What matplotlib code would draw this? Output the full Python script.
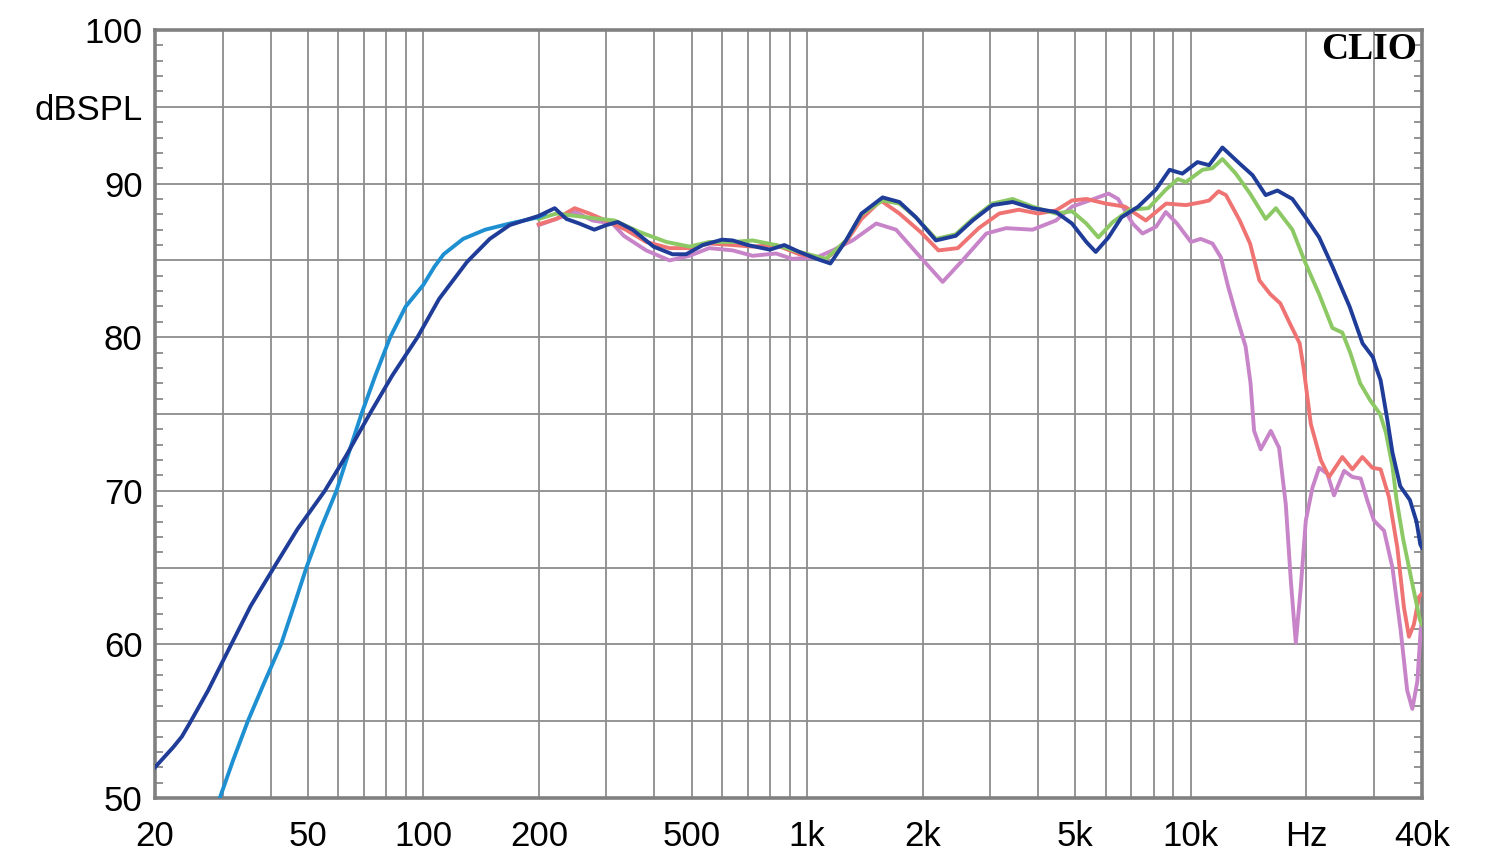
import matplotlib
matplotlib.use('Agg')
import matplotlib.pyplot as plt
from matplotlib.ticker import NullLocator

plt.rcParams['font.family'] = ['Liberation Sans', 'DejaVu Sans']

# light blue (low range measurement)
lb_freq = [29.5, 32, 34.9, 38.5, 42.6, 46, 49.6, 54, 59.4, 64, 69, 75, 82, 90,
           100, 107, 113, 127, 145, 168, 199, 207]
lb_db = [50.0, 52.5, 55.0, 57.5, 60.0, 62.5, 65.0, 67.5, 70.0, 72.5, 75.0, 77.5,
         80.0, 82.0, 83.4, 84.6, 85.4, 86.4, 87.0, 87.4, 87.8, 88.0]

# dark blue (full range)
db_freq = [20, 22.3, 23.5, 24.8, 27.5, 31.6, 35.5, 40.8, 47, 55.4, 63, 72.5, 83,
           96.6, 110, 130, 149, 168, 200, 220, 236, 255, 279, 300, 321, 351,
           398, 446, 484, 535, 600, 640, 700, 800, 872, 955, 1060, 1150, 1263,
           1386, 1573, 1740, 1922, 2166, 2440, 2700, 3040, 3432, 3867, 4450,
           4900, 5340, 5650, 6100, 6590, 7290, 8100, 8800, 9500, 10400, 11150,
           12080, 13400, 14470, 15660, 16800, 18380, 19900, 21580, 23370,
           25900, 28000, 29800, 30300, 31200, 31500, 32500, 33500, 35100,
           37200, 38700, 39600, 40000]
db_db = [52.0, 53.3, 54.0, 55.0, 57.0, 60.0, 62.5, 65.0, 67.5, 70.0, 72.3, 75.0,
         77.5, 80.0, 82.5, 84.9, 86.4, 87.3, 87.9, 88.4, 87.7, 87.4, 87.0, 87.3,
         87.5, 87.0, 85.9, 85.4, 85.4, 86.0, 86.35, 86.3, 86.0, 85.7, 86.0,
         85.55, 85.1, 84.8, 86.3, 88.05, 89.1, 88.8, 87.8, 86.3, 86.6, 87.6,
         88.6, 88.8, 88.4, 88.15, 87.4, 86.2, 85.55, 86.5, 87.8, 88.5, 89.6,
         90.9, 90.65, 91.4, 91.2, 92.35, 91.3, 90.55, 89.25, 89.55, 89.0, 87.8,
         86.5, 84.6, 82.0, 79.6, 78.7, 78.1, 77.2, 76.6, 74.6, 72.5, 70.3,
         69.4, 68.0, 66.5, 66.3]

# green
gr_freq = [200, 222, 249, 288, 315, 366, 430, 494, 556, 640, 721, 830, 955,
           1120, 1263, 1386, 1573, 1740, 1922, 2166, 2440, 2700, 3040, 3432,
           3867, 4450, 4900, 5340, 5740, 6260, 6940, 7750, 8600, 9250, 9700,
           10720, 11380, 12080, 13090, 14260, 15660, 16650, 18380, 19900,
           21580, 23370, 24800, 26000, 27600, 29300, 31100, 32200, 33500,
           34300, 35700, 37600, 39500, 40000]
gr_db = [87.7, 88.05, 87.9, 87.7, 87.6, 86.85, 86.2, 85.9, 86.2, 86.2, 86.3,
         86.0, 85.55, 85.1, 86.3, 88.0, 88.9, 88.7, 87.8, 86.4, 86.7, 87.7,
         88.7, 89.0, 88.5, 88.05, 88.2, 87.4, 86.5, 87.5, 88.3, 88.4, 89.6,
         90.3, 90.1, 90.9, 91.0, 91.6, 90.65, 89.35, 87.7, 88.4, 87.0, 84.8,
         82.8, 80.6, 80.3, 79.0, 77.0, 75.9, 75.0, 73.8, 71.6, 69.5, 66.9,
         64.15, 61.6, 61.3]

# red
rd_freq = [200, 222, 248, 271, 305, 337, 381, 438, 494, 556, 640, 721, 830,
           955, 1120, 1263, 1386, 1556, 1740, 1975, 2200, 2470, 2800, 3165,
           3560, 4000, 4450, 4900, 5340, 6000, 6730, 7630, 8620, 9700, 10720,
           11150, 11800, 12340, 13400, 14260, 15080, 16100, 17100, 18100,
           19200, 19700, 20530, 21800, 22900, 24800, 26350, 27970, 29700,
           31200, 32800, 34500, 35900, 37000, 38100, 39300, 40000]
rd_db = [87.35, 87.7, 88.4, 88.05, 87.5, 87.0, 86.2, 85.8, 85.8, 86.1, 86.0,
         85.9, 86.0, 85.4, 85.1, 86.2, 87.7, 88.9, 88.05, 86.85, 85.65, 85.8,
         87.1, 88.05, 88.3, 88.05, 88.25, 88.9, 89.0, 88.7, 88.5, 87.6, 88.7,
         88.6, 88.8, 88.9, 89.5, 89.25, 87.6, 86.1, 83.7, 82.8, 82.2, 80.9,
         79.6, 77.85, 74.35, 72.0, 70.9, 72.2, 71.4, 72.2, 71.5, 71.4, 69.6,
         66.3, 62.4, 60.5, 61.3, 63.1, 63.3]

# pink
pk_freq = [200, 222, 249, 276, 311, 333, 381, 438, 494, 556, 640, 721, 830,
           914, 1060, 1165, 1314, 1514, 1705, 1975, 2255, 2540, 2930, 3300,
           3867, 4450, 4900, 5440, 6100, 6460, 7050, 7480, 8120, 8600, 9200,
           10000, 10600, 11380, 11970, 12500, 13170, 13880, 14300, 14610,
           15200, 16150, 16970, 17670, 18210, 18760, 19330, 19920, 20730,
           21580, 22680, 23600, 25070, 26350, 27700, 28830, 30000, 31860,
           33500, 35200, 36600, 37750, 38900, 39700, 40000]
pk_db = [87.3, 87.7, 88.15, 87.6, 87.4, 86.6, 85.65, 85.0, 85.3, 85.8, 85.65,
         85.3, 85.45, 85.1, 85.2, 85.65, 86.3, 87.4, 87.0, 85.2, 83.6, 85.0,
         86.75, 87.1, 87.0, 87.6, 88.5, 88.9, 89.35, 89.0, 87.4, 86.75, 87.2,
         88.15, 87.4, 86.2, 86.4, 86.1, 85.2, 83.3, 81.3, 79.4, 77.0, 73.9,
         72.7, 73.9, 72.8, 69.1, 64.15, 60.1, 63.7, 68.05, 70.2, 71.5, 71.1,
         69.7, 71.3, 70.9, 70.8, 69.35, 68.05, 67.4, 65.0, 60.9, 57.0, 55.8,
         57.6, 61.0, 61.5]

x_ticks = [20, 30, 40, 50, 60, 70, 80, 90, 100, 200, 300, 400, 500, 600, 700,
           800, 900, 1000, 2000, 3000, 4000, 5000, 6000, 7000, 8000, 9000,
           10000, 20000, 30000, 40000]
x_names = {20: '20', 50: '50', 100: '100', 200: '200', 500: '500', 1000: '1k',
           2000: '2k', 5000: '5k', 10000: '10k', 20000: 'Hz', 40000: '40k'}
y_ticks = [50, 55, 60, 65, 70, 75, 80, 85, 90, 95, 100]
y_names = ['50', '', '60', '', '70', '', '80', '', '90', 'dBSPL', '100']

fig = plt.figure(figsize=(15, 8.66), dpi=100)
ax = fig.add_axes([155 / 1500, 1 - 798 / 866, 1267 / 1500, 768 / 866])

lw = 2.8
ax.plot(pk_freq, pk_db, color='#c884c8', lw=lw, zorder=3)
ax.plot(rd_freq, rd_db, color='#f07373', lw=lw, zorder=4)
ax.plot(gr_freq, gr_db, color='#8cc864', lw=lw, zorder=5)
ax.plot(lb_freq, lb_db, color='#1e90d2', lw=lw, zorder=6)
ax.plot(db_freq, db_db, color='#1f3d98', lw=lw, zorder=7)

ax.set_xscale('log')
ax.set_xlim(20, 40000)
ax.set_ylim(50, 100)
ax.set_xticks(x_ticks)
ax.set_xticklabels([x_names.get(t, '') for t in x_ticks])
ax.xaxis.set_minor_locator(NullLocator())
ax.set_yticks(y_ticks)
ax.set_yticklabels(y_names)
ax.set_yticks(range(50, 101), minor=True)

ax.tick_params(axis='x', length=0, pad=16, labelsize=25)
ax.tick_params(axis='y', which='major', length=0, pad=9, labelsize=25)
ax.tick_params(axis='y', which='minor', direction='in', length=6, width=1.2,
               color='#808080', left=True, right=True)

ax.grid(True, which='major', color='#8c8c8c', lw=1.3)
ax.set_axisbelow(True)
for s in ax.spines.values():
    s.set_color('#808080')
    s.set_linewidth(2.6)

ax.text(0.996, 0.997, 'CLIO', transform=ax.transAxes, ha='right', va='top',
        fontsize=27, fontweight='bold', family='Liberation Serif', zorder=10)

fig.savefig('out.png', dpi=100)
